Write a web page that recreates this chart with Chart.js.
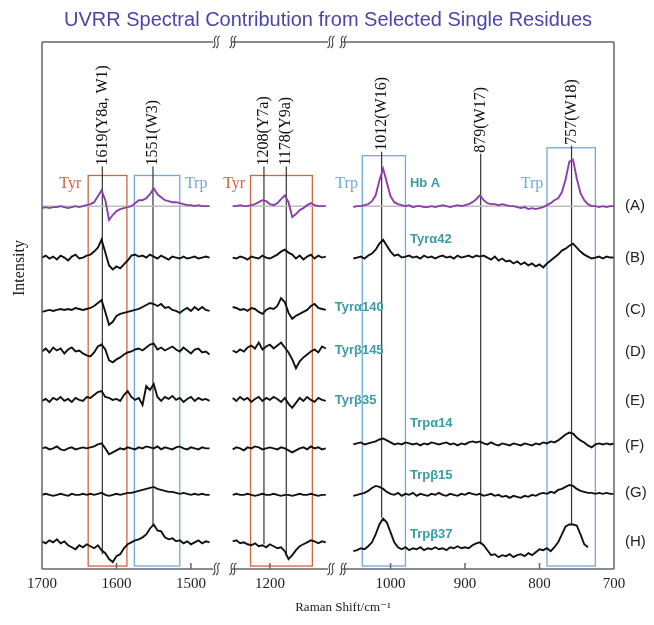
<!DOCTYPE html>
<html>
<head>
<meta charset="utf-8">
<script src="https://cdn.jsdelivr.net/npm/chart.js@4.4.0/dist/chart.umd.min.js"></script>
<style>
html, body { margin: 0; padding: 0; background: #fff; }
</style>
</head>
<body>
<canvas id="myChart" width="654" height="625"></canvas>
<script>
// Raman shift grids (cm-1) for the three pieces of the broken axis
const steps = (from, to, step) => Array.from({ length: Math.round((from - to) / step) + 1 }, (_, i) => from - i * step);
const grid1 = steps(1700, 1475, 5);
const grid2 = steps(1250, 1125, 5);
const grid3 = steps(1050, 700, 5);

const tickRaw = [1700, 1600, 1500, 1200, 1000, 900, 800, 700];
const axisPieces = [[1700, 1470], [1251, 1122], [1065, 700]];

const rowLabels = ['(A)', '(B)', '(C)', '(D)', '(E)', '(F)', '(G)', '(H)'];
const rowOffsets = [367, 315, 262, 220, 171, 122, 75, 27];
const rowLabelY = [367, 315, 262, 220, 170, 125, 77, 27];

// spectra, intensity relative to each row's baseline
const specA1 = [-2,-1,-2,-1,-1,0,-1,-2,-1,0,-1,0,1, 2,4,10,16,6,-14,-9,-5,-3,-2,-1,0,3,6,6,8,12,18,12,9,6,5,4,4,3,2,1,1,0,1,0,0,0];
const specA2 = [0,0,1,0,0,1,2,4,6,5,2,1,3,7,11,4,-11,-8,-4,-2,1,3,1,0,0,0];
const specA3 = [-1,0,0,1,2,5,11,26,38,24, 10,4,2,1,0,1,-1,0,0,-1, -1,0,-1,0,1,0,-1,0,1,0, 1,2,4,7,11,6,3,2,2,1,
  2,1,0,0,-1,-2,-1,-3,-2,-3, -2,-1,1,3,6,8,14,27,45,47, 28,13,6,2,0,0,-1,0,-1,0, 0];

const specB1 = [0,2,-1,1,-2,2,0,-3,1,3,-1,0,2, 3,6,10,18,5,-8,-12,-9,-11,-7,-3,2,3,1,2,0,3,1,-1,2,0,-2,1,0,-1,1,-1,0,1,-1,0,1,0];
const specB2 = [0,-1,1,0,-2,1,0,-1,2,0,-1,1,3,6,8,5,3,-1,2,-2,1,3,-1,2,0,1];
const specB3 = [-1,0,1,-1,2,4,8,14,18,12, 6,2,3,0,1,2,0,1,-1,2, 0,1,-1,1,2,0,1,-1,2,0, 1,2,0,2,1,2,0,-2,1,-3,
  -1,-4,-3,-6,-4,-7,-5,-8,-6,-9, -7,-10,-6,-3,0,3,7,9,12,14, 10,6,3,1,-1,0,1,-1,1,0, 0];

const specC1 = [-2,-1,0,-1,0,1,0,1,0,2,1,0,1, 2,4,7,10,-2,-15,-12,-6,-4,-3,-2,-1,0,1,3,5,7,6,4,6,2,3,0,-1,-3,0,2,-1,3,0,3,0,-1];
const specC2 = [3,2,0,1,-1,2,1,-2,-4,0,2,1,4,12,8,-3,-9,-6,-4,-2,0,4,6,2,1,0];

const specD1 = [0,3,-1,4,1,3,-2,2,4,0,1,-2,-4, -5,-1,5,7,2,-9,-11,-8,-6,-3,-1,0,2,3,1,4,7,8,2,4,1,3,5,2,0,4,1,-2,2,3,-1,0,-3];
const specD2 = [1,-1,2,0,4,6,3,9,2,5,7,3,6,9,4,-1,-8,-17,-10,-6,-3,0,2,-1,5,3];

const specE1 = [-1,1,-2,2,0,3,-1,1,-2,2,0,-1,3, 2,5,8,9,3,2,0,1,-1,5,9,3,0,2,-5,14,10,16,3,-1,3,1,4,0,2,-2,1,3,-1,2,0,1,-1];
const specE2 = [2,-1,3,0,2,-2,1,3,-1,2,0,3,1,-2,2,-4,-8,-3,2,-1,3,0,-2,2,0,-1];

const specF1 = [0,1,-1,0,2,-1,-2,0,1,-1,0,1,0, 1,2,4,5,0,-6,-4,-2,0,-1,1,0,-1,1,0,2,1,0,2,-1,1,0,-1,1,2,0,-1,1,0,-1,1,0,0];
const specF2 = [-1,1,0,-2,1,0,2,1,-1,0,1,0,-1,1,0,-2,-4,-2,0,1,-1,2,0,1,-1,0];
const specF3 = [4,5,6,4,5,6,7,9,10,8, 6,4,5,4,6,5,4,5,3,5, 4,6,5,4,5,6,4,5,3,5, 4,6,7,6,7,5,4,6,4,3,
  5,4,3,5,4,3,5,4,3,5, 4,6,5,7,6,8,11,14,16,15, 11,8,6,3,1,4,5,4,5,4, 5];

const specG1 = [0,1,0,-1,0,1,0,-1,1,0,0,1,0, 1,0,1,2,0,-1,0,1,0,1,2,2,3,4,5,6,7,8,6,5,4,3,3,2,1,2,1,0,1,0,1,0,0];
const specG2 = [0,1,0,0,1,0,-1,0,1,0,0,1,0,-1,0,0,-1,0,1,0,0,1,0,-1,0,0];
const specG3 = [-1,0,1,2,4,7,9,8,6,3, 1,0,2,-1,1,0,2,-1,1,0, -1,1,0,2,0,-1,1,0,-1,1, 0,2,1,0,1,-1,0,1,-1,0,
  -2,-1,-3,-1,-2,-3,-1,-2,0,-1, 1,2,1,3,2,5,6,8,10,9, 6,4,3,2,2,1,2,1,2,1, 1];

const specH1 = [1,-1,2,0,3,-1,1,-3,-5,-7,-3,-5,-2, -4,-6,-3,-8,-11,-17,-20,-14,-12,-6,-2,0,2,3,5,8,14,18,12,11,5,3,4,1,2,-1,1,-2,0,2,-1,1,0];
const specH2 = [1,2,-1,0,-2,-3,-1,-4,-3,-5,-2,-4,-6,-5,-9,-17,-13,-8,-4,-2,0,2,1,-1,1,0];
const specH3 = [-9,-8,-6,-7,-4,0,8,18,24,20, 10,0,-5,-7,-5,-8,-6,-7,-5,-8, -6,-7,-5,-7,-6,-8,-5,-6,-4,-6, -5,-6,-3,-1,0,-3,-8,-13,-12,-15,
  -13,-14,-12,-15,-13,-12,-14,-11,-13,-10, -7,-8,-6,-9,-5,0,8,16,18,18, 17,8,-2,-5,null,null,null,null,null,null, null];

const rowParts = [
  [specA1, specA2, specA3],
  [specB1, specB2, specB3],
  [specC1, specC2, null],
  [specD1, specD2, null],
  [specE1, specE2, null],
  [specF1, specF2, specF3],
  [specG1, specG2, specG3],
  [specH1, specH2, specH3]
];

// marked bands
const peakPos = [1619, 1551, 1208, 1178, 1012, 879, 757];
const peakNames = ['1619(Y8a, W1)', '1551(W3)', '1208(Y7a)', '1178(Y9a)', '1012(W16)', '879(W17)', '757(W18)'];
const peakTop = [407, 407, 407, 407, 422, 420, 428];
const peakBottom = [15, 45, 25, 13, 52, 25, 45];

const boxFrom = [1638, 1576, 1226, 1038, 790];
const boxTo = [1586, 1515, 1143, 980, 725];
const boxTop = [398, 398, 398, 418, 426];
const boxKind = ['Tyr', 'Trp', 'Tyr', 'Trp', 'Trp'];
const boxLabelX = [1662, 1493, 1248, 1059, 810];
const boxBottom = 3;

const residueNames = ['Hb A', 'Tyrα42', 'Tyrα140', 'Tyrβ145', 'Tyrβ35', 'Trpα14', 'Trpβ15', 'Trpβ37'];
const residueX = [974, 974, 1075, 1075, 1075, 974, 974, 974];
const residueY = [390, 333, 265, 221, 171, 147, 95, 35];

const purple = '#8b3fa8';
const tyrColor = '#d2643f';
const trpColor = '#72a9dc';
const teal = '#3a9ca6';
const serif = "'Liberation Serif', 'DejaVu Serif', serif";
const sans = "'Liberation Sans', Arial, sans-serif";

// broken axis: cm-1 -> continuous axis units
function toD(raw) {
  if (raw >= 1300) return 1700 - raw;
  if (raw >= 1100) return 1506 - raw;
  return 1468 - raw;
}

const grids = [grid1, grid2, grid3];
function buildPoints(parts, offset) {
  const pts = [];
  parts.forEach((vals, k) => {
    if (!vals) return;
    const xs = grids[k];
    vals.forEach((v, i) => pts.push({ x: toD(xs[i]), y: v === null ? null : offset + v }));
    pts.push({ x: toD(xs[xs.length - 1]) + 2, y: null });
  });
  return pts;
}

const datasets = rowParts.map((parts, i) => ({
  label: rowLabels[i],
  data: buildPoints(parts, rowOffsets[i]),
  borderColor: i === 0 ? purple : '#111',
  borderWidth: 1.9,
  spanGaps: false
}));

// grey reference line under trace A
const baseA = [];
grids.forEach(xs => {
  baseA.push({ x: toD(xs[0]), y: rowOffsets[0] });
  baseA.push({ x: toD(xs[xs.length - 1]), y: rowOffsets[0] });
  baseA.push({ x: toD(xs[xs.length - 1]) + 2, y: null });
});
datasets.push({ label: 'base', data: baseA, borderColor: '#bdbdbd', borderWidth: 1.5, spanGaps: false });

function squiggle(ctx, cx, cy) {
  [-1.6, 1.6].forEach(dx => {
    ctx.beginPath();
    ctx.moveTo(cx + dx - 2, cy + 6);
    ctx.bezierCurveTo(cx + dx + 4, cy + 3, cx + dx - 4, cy - 3, cx + dx + 2, cy - 6);
    ctx.stroke();
  });
}

const decor = {
  id: 'decor',
  beforeDatasetsDraw(chart) {
    const { ctx, scales: { x, y } } = chart;
    ctx.save();
    ctx.lineWidth = 1.3;
    boxFrom.forEach((f, i) => {
      const x1 = x.getPixelForValue(toD(f)), x2 = x.getPixelForValue(toD(boxTo[i]));
      const y1 = y.getPixelForValue(boxTop[i]), y2 = y.getPixelForValue(boxBottom);
      ctx.strokeStyle = boxKind[i] === 'Tyr' ? tyrColor : trpColor;
      ctx.strokeRect(x1, y1, x2 - x1, y2 - y1);
    });
    ctx.strokeStyle = '#333';
    ctx.lineWidth = 1.2;
    peakPos.forEach((p, i) => {
      const px = x.getPixelForValue(toD(p));
      ctx.beginPath();
      ctx.moveTo(px, y.getPixelForValue(peakTop[i]));
      ctx.lineTo(px, y.getPixelForValue(peakBottom[i]));
      ctx.stroke();
    });
    ctx.restore();
  },
  afterDraw(chart) {
    const { ctx, chartArea: a, scales: { x, y } } = chart;
    ctx.save();
    // frame with breaks
    const px = axisPieces.map(([h, l]) => [x.getPixelForValue(toD(h)), x.getPixelForValue(toD(l))]);
    px[0][0] = a.left;
    px[px.length - 1][1] = a.right;
    ctx.strokeStyle = '#666';
    ctx.lineWidth = 1.5;
    ctx.beginPath();
    px.forEach(([p0, p1]) => {
      ctx.moveTo(p0, a.top); ctx.lineTo(p1, a.top);
      ctx.moveTo(p0, a.bottom); ctx.lineTo(p1, a.bottom);
    });
    ctx.moveTo(a.left, a.top); ctx.lineTo(a.left, a.bottom);
    ctx.moveTo(a.right, a.top); ctx.lineTo(a.right, a.bottom);
    tickRaw.forEach(t => {
      const tx = x.getPixelForValue(toD(t));
      ctx.moveTo(tx, a.bottom); ctx.lineTo(tx, a.bottom - 6);
    });
    ctx.stroke();
    ctx.lineWidth = 1.1;
    ctx.strokeStyle = '#444';
    for (let k = 0; k < px.length - 1; k++) {
      [a.top, a.bottom].forEach(yy => {
        squiggle(ctx, px[k][1] + 3, yy);
        squiggle(ctx, px[k + 1][0] + 1, yy);
      });
    }

    // band labels (rotated)
    ctx.fillStyle = '#111';
    ctx.font = '16px ' + serif;
    ctx.textAlign = 'left';
    ctx.textBaseline = 'middle';
    peakPos.forEach((p, i) => {
      ctx.save();
      ctx.translate(x.getPixelForValue(toD(p)), y.getPixelForValue(peakTop[i]) - 1);
      ctx.rotate(-Math.PI / 2);
      ctx.fillText(peakNames[i], 0, 0);
      ctx.restore();
    });

    // Tyr / Trp box labels
    ctx.textAlign = 'center';
    boxLabelX.forEach((r, i) => {
      ctx.fillStyle = boxKind[i] === 'Tyr' ? tyrColor : trpColor;
      ctx.fillText(boxKind[i], x.getPixelForValue(toD(r)), y.getPixelForValue(390));
    });

    // residue names
    ctx.fillStyle = teal;
    ctx.font = 'bold 13px ' + sans;
    ctx.textAlign = 'left';
    residueNames.forEach((n, i) => {
      ctx.fillText(n, x.getPixelForValue(toD(residueX[i])), y.getPixelForValue(residueY[i]));
    });

    // row letters
    ctx.fillStyle = '#222';
    ctx.font = '15px ' + sans;
    rowLabels.forEach((l, i) => {
      ctx.fillText(l, a.right + 11, y.getPixelForValue(rowLabelY[i]));
    });

    // axis titles
    ctx.textAlign = 'center';
    ctx.font = '13px ' + serif;
    ctx.fillText('Raman Shift/cm⁻¹', (a.left + a.right) / 2 + 15, a.bottom + 39);
    ctx.save();
    ctx.translate(20, 268);
    ctx.rotate(-Math.PI / 2);
    ctx.font = '16px ' + serif;
    ctx.fillText('Intensity', 0, 0);
    ctx.restore();
    ctx.restore();
  }
};

const ctx = document.getElementById('myChart').getContext('2d');
const myChart = new Chart(ctx, {
  type: 'line',
  data: { datasets: datasets },
  options: {
    responsive: false,
    animation: false,
    layout: { padding: { left: 42, right: 40, top: 0, bottom: 26 } },
    plugins: {
      legend: { display: false },
      tooltip: { enabled: false },
      title: {
        display: true,
        text: 'UVRR Spectral Contribution from Selected Single Residues',
        color: '#4a46a8',
        font: { family: sans, size: 20, weight: 'normal' },
        padding: { top: 8, bottom: 10 }
      }
    },
    elements: { point: { radius: 0 }, line: { tension: 0 } },
    scales: {
      x: {
        type: 'linear',
        min: 0,
        max: 768,
        grid: { display: false, drawTicks: false },
        border: { display: false },
        afterBuildTicks: scale => { scale.ticks = tickRaw.map(r => ({ value: toD(r) })); },
        ticks: {
          autoSkip: false,
          maxRotation: 0,
          padding: 6,
          color: '#222',
          font: { family: serif, size: 15 },
          callback: (v, i) => tickRaw[i]
        }
      },
      y: { display: false, min: 0, max: 533 }
    }
  },
  plugins: [decor]
});
</script>
</body>
</html>
